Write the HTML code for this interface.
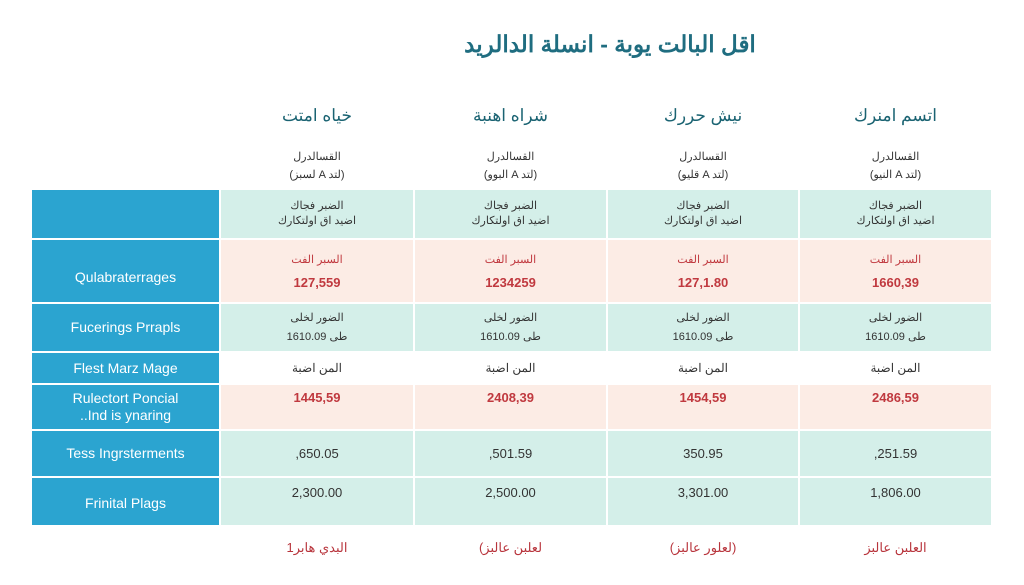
<!DOCTYPE html>
<html><head><meta charset="utf-8"><style>
body{margin:0;width:1024px;height:585px;background:#fff;position:relative;overflow:hidden;font-family:"Liberation Sans","Noto Sans CJK SC",sans-serif;}
.a{position:absolute;text-align:center;box-sizing:border-box;display:flex;flex-direction:column;justify-content:center;align-items:center;}
.l{background:#2ba4d0;color:#fff;font-size:14px;line-height:17px;}
.t{background:#d4efe9;}
.p{background:#fcece5;}
.w{background:#fff;}
.s{font-size:11px;color:#333;line-height:15px;}
.r{color:#c0393f;font-weight:bold;font-size:13px;}
.n{color:#333;font-size:13px;}
.h{position:absolute;text-align:center;color:#1d6f7d;}
</style></head><body>
<div class="h" style="left:380px;top:31px;width:460px;font-size:23px;font-weight:bold;color:#1f6d80">اقل البالت يوبة - انسلة الدالريد</div>

<div class="h" style="left:221px;top:106px;width:192px;font-size:17px;color:#1a6372">خياه امتت</div>
<div class="h" style="left:415px;top:106px;width:191px;font-size:17px;color:#1a6372">شراه اهنبة</div>
<div class="h" style="left:608px;top:106px;width:190px;font-size:17px;color:#1a6372">نيش حررك</div>
<div class="h" style="left:800px;top:106px;width:191px;font-size:17px;color:#1a6372">اتسم امنرك</div>

<div class="h" style="left:221px;top:148px;width:192px;font-size:11px;color:#333;line-height:18px">القسالدرل<br>(لسبز A لتد)</div>
<div class="h" style="left:415px;top:148px;width:191px;font-size:11px;color:#333;line-height:18px">القسالدرل<br>(البوو A لتد)</div>
<div class="h" style="left:608px;top:148px;width:190px;font-size:11px;color:#333;line-height:18px">القسالدرل<br>(قليو A لتد)</div>
<div class="h" style="left:800px;top:148px;width:191px;font-size:11px;color:#333;line-height:18px">القسالدرل<br>(النيو A لتد)</div>

<div class="a l" style="left:32px;top:190px;width:187px;height:48px"></div>
<div class="a l" style="left:32px;top:240px;width:187px;height:62px;padding-top:12px">Qulabraterrages</div>
<div class="a l" style="left:32px;top:304px;width:187px;height:47px">Fucerings Prrapls</div>
<div class="a l" style="left:32px;top:353px;width:187px;height:30px">Flest Marz Mage</div>
<div class="a l" style="left:32px;top:385px;width:187px;height:44px">Rulectort Poncial<br>..Ind is ynaring</div>
<div class="a l" style="left:32px;top:431px;width:187px;height:45px">Tess Ingrsterments</div>
<div class="a l" style="left:32px;top:478px;width:187px;height:47px;padding-top:4px">Frinital Plags</div>

<script>
var xs=[[221,192],[415,191],[608,190],[800,191]];
var r2=["127,559","1234259","127,1.80","1660,39"];
var r5=["1445,59","2408,39","1454,59","2486,59"];
var r6=["\u200e,650.05","\u200e,501.59","\u200e350.95","\u200e,251.59"];
var r7=["2,300.00","2,500.00","3,301.00","1,806.00"];
var f=["البدي هابر1","(لعلبن عالبز","(لعلور عالبز)","العلبن عالبز"];
var h="";
for(var i=0;i<4;i++){var x=xs[i][0],w=xs[i][1];
h+='<div class="a t s" style="left:'+x+'px;top:190px;width:'+w+'px;height:48px">الضبر فجاك<br>اضيد اق اولتكارك</div>';
h+='<div class="a p" style="left:'+x+'px;top:240px;width:'+w+'px;height:62px"><div style="color:#c0393f;font-size:11px;margin-bottom:9px">السبر الفت</div><div class="r">'+r2[i]+'</div></div>';
h+='<div class="a t s" style="left:'+x+'px;top:304px;width:'+w+'px;height:47px;font-size:11px;line-height:19px">الضور لخلى<br>1610.09 طى</div>';
h+='<div class="a w n" style="left:'+x+'px;top:353px;width:'+w+'px;height:30px;font-size:12px">المن اضبة</div>';
h+='<div class="a p" style="left:'+x+'px;top:385px;width:'+w+'px;height:44px;justify-content:flex-start;padding-top:5px"><div class="r">'+r5[i]+'</div></div>';
h+='<div class="a t n" style="left:'+x+'px;top:431px;width:'+w+'px;height:45px">'+r6[i]+'</div>';
h+='<div class="a t n" style="left:'+x+'px;top:478px;width:'+w+'px;height:47px;justify-content:flex-start;padding-top:7px">'+r7[i]+'</div>';
h+='<div class="h" style="left:'+x+'px;top:540px;width:'+w+'px;font-size:13px;color:#b8343c">'+f[i]+'</div>';
}
document.write(h);
</script>
</body></html>
